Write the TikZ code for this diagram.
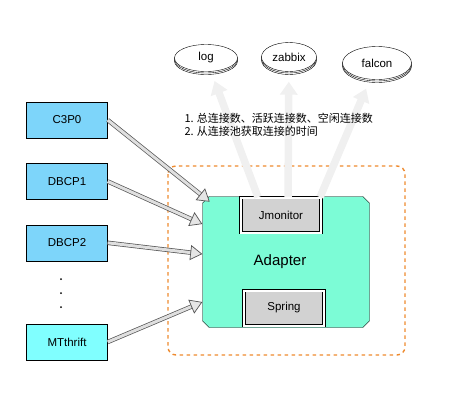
\documentclass[tikz,border=0pt]{standalone}
\usepackage{fontspec}
\setmainfont{Liberation Sans}
\newfontfamily\cjk{Noto Sans CJK SC}
\usetikzlibrary{positioning,arrows.meta,shapes.geometric,shapes.misc,shadows}
\definecolor{poolblue}{HTML}{7DD5FA}
\definecolor{thriftcyan}{HTML}{80FFFF}
\definecolor{adaptergreen}{HTML}{7CFCD6}
\definecolor{frameorange}{HTML}{EE8A2E}
\tikzset{
  poolbox/.style={rectangle, draw, fill=poolblue, minimum width=81pt, minimum height=36pt, font=\fontsize{11.5}{13}\selectfont},
  sink/.style={ellipse, draw, fill=white, inner sep=1pt, font=\fontsize{11.5}{13}\selectfont,
               double copy shadow={shadow xshift=0pt, shadow yshift=-1.5pt, fill=white, draw=black}},
  plugin/.style={rectangle, draw, double=white, double distance=2pt, line width=0.6pt, fill=gray!35,
                 minimum width=80pt, minimum height=35pt, font=\fontsize{11.5}{13}\selectfont},
  feed/.style={draw=gray!65!black, double=gray!25, double distance=3pt, line width=0.7pt,
               -{Triangle[open, length=12pt, width=15pt, fill=gray!20]}},
  report/.style={draw=gray!12, line width=7.5pt, -{Triangle[length=13pt, width=17pt]}, shorten >=10pt},
}
\begin{document}
\begin{tikzpicture}[x=1pt, y=-1pt]
  \useasboundingbox (0,0) rectangle (476,418);

  % dashed frame round the adapter
  \draw[frameorange, line width=1.4pt, dash pattern=on 3.5pt off 3.5pt, rounded corners=8pt] (168,166) rectangle (405,355);

  \node[sink, minimum width=63pt, minimum height=27pt] (log) at (206,58) {log};
  \node[sink, minimum width=55pt, minimum height=29pt] (zabbix) at (289,57) {zabbix};
  \node[sink, minimum width=69pt, minimum height=33pt] (falcon) at (377,63) {falcon};

  \node[poolbox] (c3p0) at (67,120) {C3P0};
  \node[poolbox] (dbcp1) [below=25pt of c3p0] {DBCP1};
  \node[poolbox] (dbcp2) [below=25pt of dbcp1] {DBCP2};
  \node[poolbox, fill=thriftcyan] (mtthrift) at (67,342) {MTthrift};
  \foreach \y in {279,293,307} \fill (61,\y) circle (1pt);

  \node[chamfered rectangle, chamfered rectangle xsep=5pt, chamfered rectangle ysep=5pt, draw, fill=adaptergreen,
        minimum width=167pt, minimum height=131pt,
        label={[xshift=-6pt, font=\fontsize{15}{17}\selectfont]center:Adapter}] (adapter) at (286,262) {};
  \node[plugin] (jmon) at (281,215) {Jmonitor};
  \node[plugin] (spring) at (284,308) {Spring};

  \draw[report] ([xshift=-23pt]jmon.north) -- (log);
  \draw[report] ([xshift=7pt]jmon.north) -- (zabbix);
  \draw[report] ([xshift=39pt]jmon.north) -- (falcon);

  \node[anchor=north west, align=left, font=\cjk\fontsize{11}{12.5}\selectfont] (notes) at (181,110)
    {1. 总连接数、活跃连接数、空闲连接数\\2. 从连接池获取连接的时间};

  \draw[feed] (c3p0.east) -- ([xshift=4pt, yshift=-2pt]adapter.north west);
  \draw[feed] (dbcp1.east) -- ([yshift=38pt]adapter.west);
  \draw[feed] (dbcp2.east) -- ([yshift=8pt]adapter.west);
  \draw[feed] (mtthrift.east) -- ([yshift=-40pt]adapter.west);

\end{tikzpicture}
\end{document}
